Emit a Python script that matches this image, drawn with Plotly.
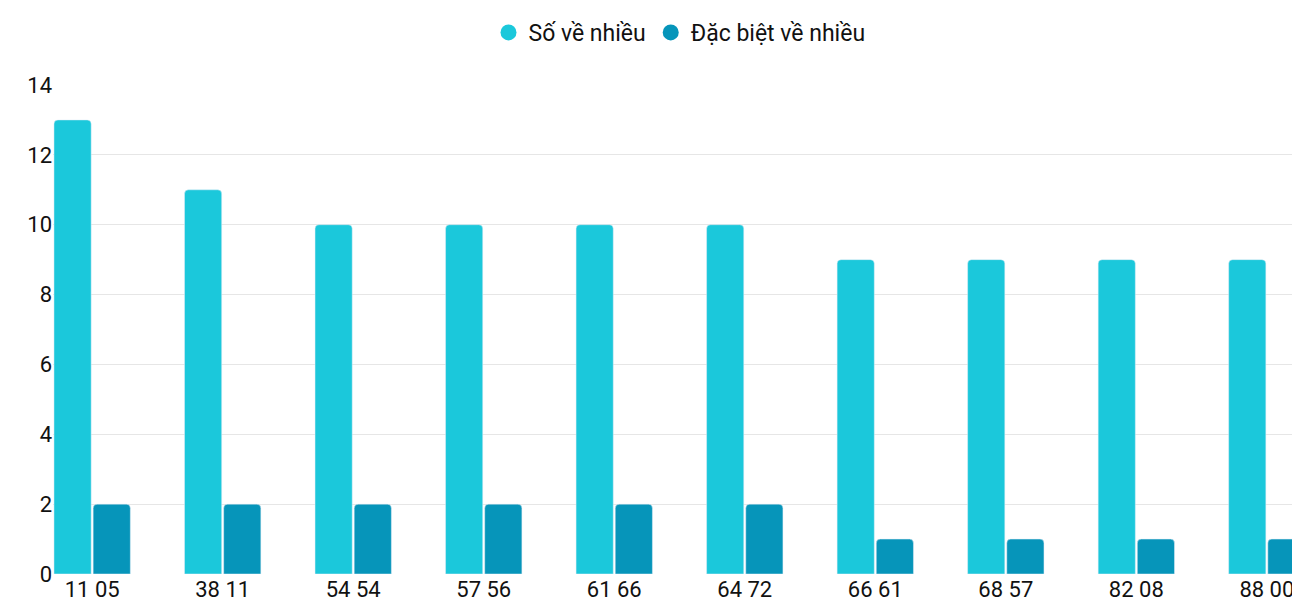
import plotly.graph_objects as go

categories = ["11 05", "38 11", "54 54", "57 56", "61 66", "64 72", "66 61", "68 57", "82 08", "88 00"]
so_ve_nhieu = [13, 11, 10, 10, 10, 10, 9, 9, 9, 9]
dac_biet = [2, 2, 2, 2, 2, 2, 1, 1, 1, 1]
names = ["Số về nhiều", "Đặc biệt về nhiều"]
colors = ["#1BC8DB", "#0695BA"]

fig = go.Figure()
for vals, nm, c in zip([so_ve_nhieu, dac_biet], names, colors):
    fig.add_bar(x=categories, y=vals, name=nm, showlegend=False,
                marker=dict(color=c, cornerradius=4))
for nm, c in zip(names, colors):
    fig.add_scatter(x=[None], y=[None], mode="markers", name=nm,
                    marker=dict(color=c, size=26, symbol="circle"))
fig.update_layout(
    width=1300, height=600, barmode="group", bargap=0.4, bargroupgap=0.05,
    plot_bgcolor="white", paper_bgcolor="white",
    font=dict(family="Roboto", size=22, color="#111"),
    margin=dict(l=45, r=2, t=77, b=34),
    legend=dict(orientation="h", x=0.5, xanchor="center", y=0.995, yanchor="top",
                yref="container", font=dict(size=23), itemsizing="trace"),
    xaxis=dict(range=[-0.3, 9.3], showgrid=False, ticks="", showline=False, automargin=False),
    yaxis=dict(range=[0, 14], dtick=2, gridcolor="#e6e6e6", zeroline=False, automargin=False),
)
fig.write_html("out.html")
